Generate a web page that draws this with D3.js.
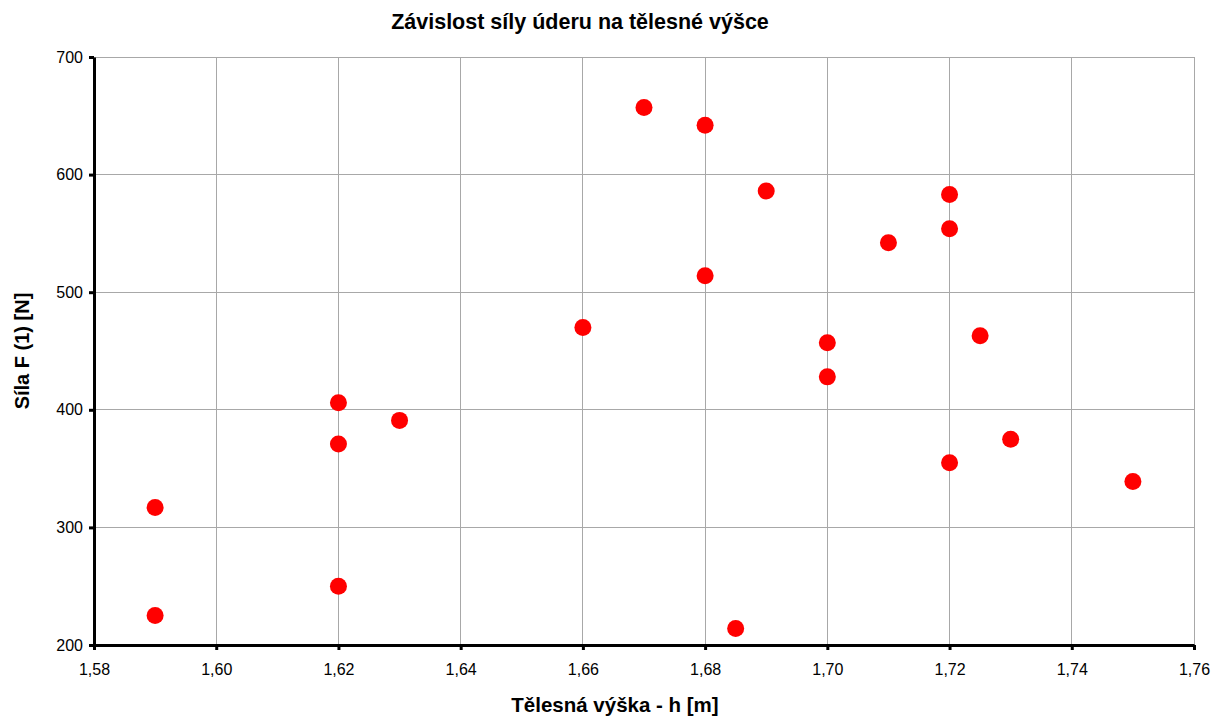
<!DOCTYPE html>
<html>
<head>
<meta charset="utf-8">
<script src="https://cdn.jsdelivr.net/npm/d3@7"></script>
<style>
  html, body { margin: 0; padding: 0; background: #fff; }
  svg { display: block; font-family: "Liberation Sans", Arial, sans-serif; }
</style>
</head>
<body>
<svg id="chart" width="1224" height="718"></svg>
<script>
// Body height h [m] and punch force F (1) [N]
const heights = [1.59, 1.59, 1.62, 1.62, 1.62, 1.63, 1.66, 1.67, 1.68, 1.68, 1.685,
                 1.69, 1.70, 1.70, 1.71, 1.72, 1.72, 1.72, 1.725, 1.73, 1.75];
const forces  = [317, 225, 406, 371, 250, 391, 470, 657, 642, 514, 214,
                 586, 457, 428, 542, 583, 554, 355, 463, 375, 339];

const xTicks = [1.58, 1.60, 1.62, 1.64, 1.66, 1.68, 1.70, 1.72, 1.74, 1.76];
const yTicks = [200, 300, 400, 500, 600, 700];

const titleText = "Závislost síly úderu na tělesné výšce";
const xTitle = "Tělesná výška - h [m]";
const yTitle = "Síla F (1) [N]";

const svg = d3.select("#chart");
const plot = { left: 94, right: 1194, top: 57, bottom: 645 };

const x = d3.scaleLinear().domain([1.58, 1.76]).range([plot.left, plot.right]);
const y = d3.scaleLinear().domain([200, 700]).range([plot.bottom, plot.top]);

const fmt = d => d3.format(".2f")(d).replace(".", ",");

// grid
const grid = svg.append("g");
grid.selectAll("line.v").data(xTicks.slice(1)).join("line")
  .attr("x1", d => x(d)).attr("x2", d => x(d))
  .attr("y1", plot.top).attr("y2", plot.bottom)
  .attr("stroke", "#a8a8a8").attr("stroke-width", 1)
  .attr("shape-rendering", "crispEdges");
grid.selectAll("line.h").data(yTicks.slice(1)).join("line")
  .attr("x1", plot.left).attr("x2", plot.right)
  .attr("y1", d => y(d)).attr("y2", d => y(d))
  .attr("stroke", "#a8a8a8").attr("stroke-width", 1)
  .attr("shape-rendering", "crispEdges");

// axes
const xAxis = svg.append("g")
  .attr("transform", `translate(0,${plot.bottom})`)
  .call(d3.axisBottom(x).tickValues(xTicks).tickFormat(fmt).tickSizeInner(5).tickSizeOuter(0).tickPadding(14));
const yAxis = svg.append("g")
  .attr("transform", `translate(${plot.left},0)`)
  .call(d3.axisLeft(y).tickValues(yTicks).tickFormat(d3.format("d")).tickSizeInner(5).tickSizeOuter(0).tickPadding(6));

[xAxis, yAxis].forEach(a => {
  a.select(".domain").attr("stroke", "#000").attr("stroke-width", 3);
  a.selectAll(".tick line").attr("stroke", "#000").attr("stroke-width", 3);
  a.selectAll(".tick text").attr("fill", "#000")
    .style("font-size", "16px").style("font-family", "Liberation Sans, Arial, sans-serif");
});

// points
svg.append("g").selectAll("circle").data(heights.map((h, i) => [h, forces[i]])).join("circle")
  .attr("cx", d => x(d[0])).attr("cy", d => y(d[1]))
  .attr("r", 8.5).attr("fill", "#ff0000");

// titles
svg.append("text").attr("x", 580).attr("y", 29).attr("text-anchor", "middle")
  .style("font-size", "21.5px").style("font-weight", "bold").text(titleText);
svg.append("text").attr("x", 615).attr("y", 712).attr("text-anchor", "middle")
  .style("font-size", "20.5px").style("font-weight", "bold").text(xTitle);
svg.append("text").attr("transform", `translate(29,${(plot.top + plot.bottom) / 2}) rotate(-90)`)
  .attr("text-anchor", "middle")
  .style("font-size", "20px").style("font-weight", "bold").text(yTitle);
</script>
</body>
</html>
